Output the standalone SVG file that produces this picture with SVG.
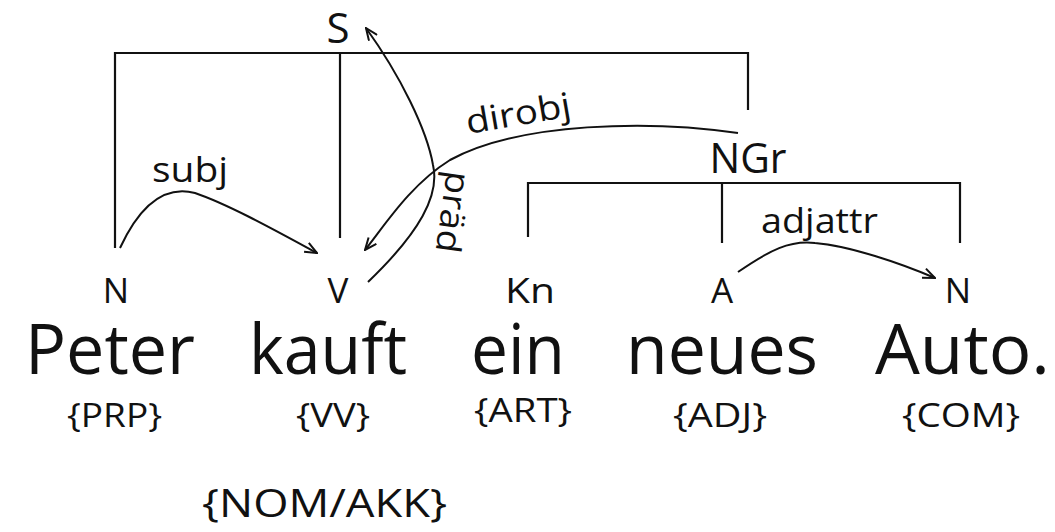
<svg xmlns="http://www.w3.org/2000/svg" width="1055" height="532" viewBox="0 0 1055 532">
<style>
text{font-family:"Open Sans","Noto Sans","DejaVu Sans",sans-serif;fill:#111}
.lab{font-size:35px;text-anchor:middle}
.big{font-size:42px;text-anchor:middle}
.word{font-size:70px}
.cat{font-size:33px}
.rel{font-size:34px}
.br{fill:none;stroke:#111;stroke-width:2.2}
.arc{fill:none;stroke:#111;stroke-width:2;marker-end:url(#arr)}
</style>
<defs>
<marker id="arr" viewBox="0 0 14 12" refX="13" refY="6" markerWidth="14" markerHeight="12" markerUnits="userSpaceOnUse" orient="auto">
<path d="M1,1 L13,6 L1,11" fill="none" stroke="#111" stroke-width="2"/>
</marker>
</defs>
<rect width="1055" height="532" fill="#fff"/>
<g id="connectors">
<path class="br" d="M115,248 V53 H748 V110 M340,53 V238"/>
<path class="br" d="M528,237 V183 H960 V243 M722,183 V243"/>
<path class="arc" d="M120,248 C140,205 165,185 195,193 C230,205 280,233 317,253"/>
<path class="arc" d="M368,282 C420,232 440,195 433,165 C427,130 400,75 366,28"/>
<path class="arc" d="M738,133 C650,120 520,122 450,160 C410,185 385,225 365,250"/>
<path class="arc" d="M738,272 C770,250 790,240 815,243 C850,246 900,263 935,278"/>
<text class="rel" x="152" y="182" textLength="76" lengthAdjust="spacingAndGlyphs">subj</text>
<text class="rel" x="468" y="134" textLength="106" lengthAdjust="spacingAndGlyphs" transform="rotate(-9.7 468 134)">dirobj</text>
<text class="rel" x="447" y="170" textLength="82" lengthAdjust="spacingAndGlyphs" transform="rotate(98 447 170)">präd</text>
<text class="rel" x="761" y="233" textLength="117" lengthAdjust="spacingAndGlyphs">adjattr</text>
</g>
<g id="node-S"><text class="big" x="338" y="43">S</text></g>
<g id="node-NGr"><text class="big" x="748" y="173" textLength="77" lengthAdjust="spacingAndGlyphs">NGr</text></g>
<g id="node-N1"><text class="lab" x="116" y="303">N</text></g>
<g id="node-V"><text class="lab" x="338" y="303">V</text></g>
<g id="node-Kn"><text class="lab" x="530" y="303" textLength="50" lengthAdjust="spacingAndGlyphs">Kn</text></g>
<g id="node-A"><text class="lab" x="722" y="303">A</text></g>
<g id="node-N2"><text class="lab" x="958" y="303">N</text></g>
<g id="word-Peter"><text class="word" x="25" y="374" textLength="170" lengthAdjust="spacingAndGlyphs">Peter</text>
<text class="cat" x="67" y="427" textLength="95" lengthAdjust="spacingAndGlyphs">{PRP}</text></g>
<g id="word-kauft"><text class="word" x="249" y="374" textLength="158" lengthAdjust="spacingAndGlyphs">kauft</text>
<text class="cat" x="296" y="427" textLength="74" lengthAdjust="spacingAndGlyphs">{VV}</text>
<text class="cat" x="202" y="517" textLength="245" lengthAdjust="spacingAndGlyphs" style="font-size:38px">{NOM/AKK}</text></g>
<g id="word-ein"><text class="word" x="471" y="374" textLength="94" lengthAdjust="spacingAndGlyphs">ein</text>
<text class="cat" x="474" y="422" textLength="98" lengthAdjust="spacingAndGlyphs">{ART}</text></g>
<g id="word-neues"><text class="word" x="626" y="374" textLength="192" lengthAdjust="spacingAndGlyphs">neues</text>
<text class="cat" x="673" y="427" textLength="94" lengthAdjust="spacingAndGlyphs">{ADJ}</text></g>
<g id="word-Auto"><text class="word" x="875" y="374" textLength="175" lengthAdjust="spacingAndGlyphs">Auto.</text>
<text class="cat" x="902" y="427" textLength="118" lengthAdjust="spacingAndGlyphs">{COM}</text></g>
</svg>
